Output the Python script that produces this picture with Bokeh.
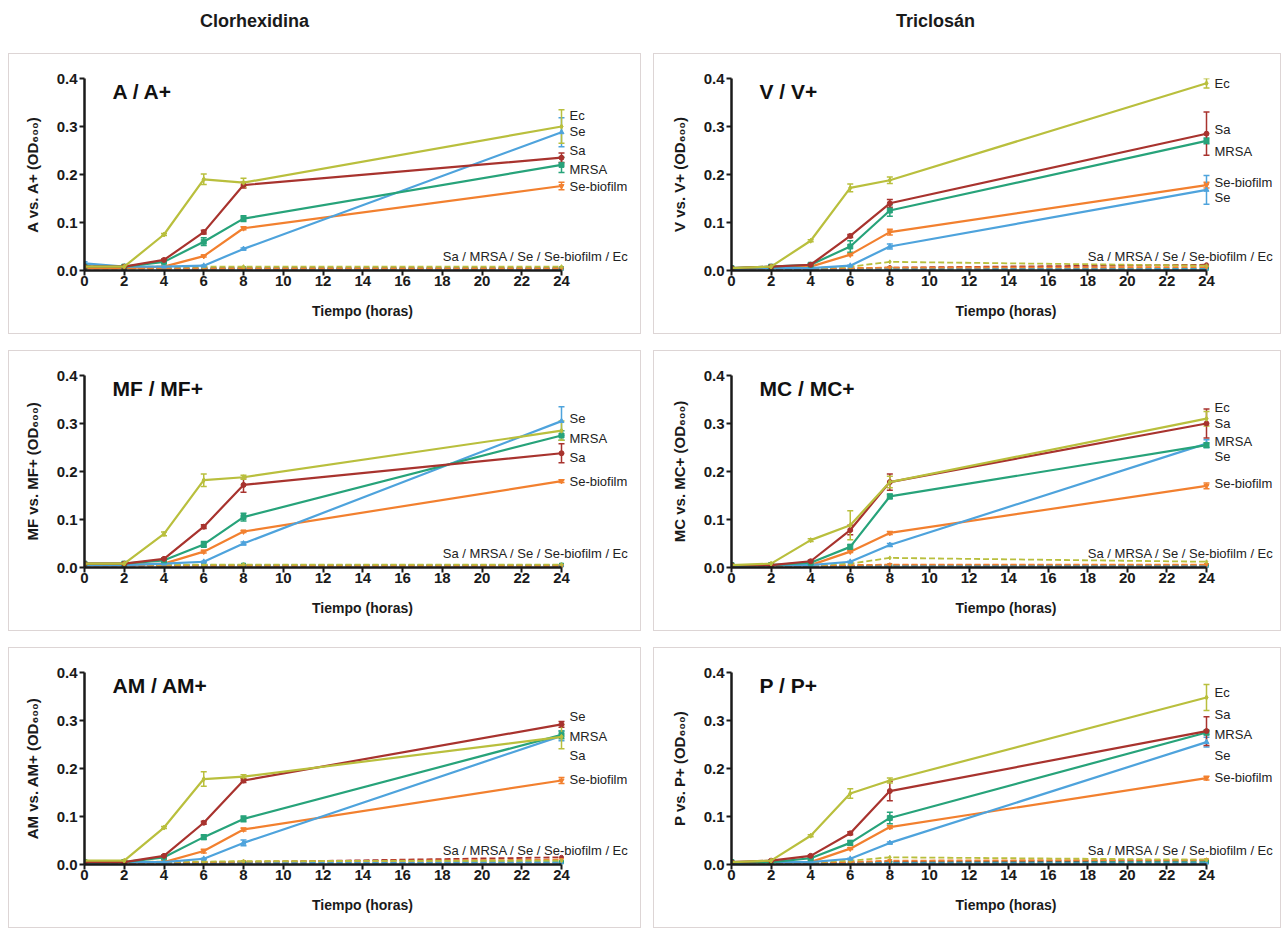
from bokeh.plotting import figure
from bokeh.models import (Range1d, Whisker, TeeHead, ColumnDataSource, Label,
                          FixedTicker, Div, PrintfTickFormatter)
from bokeh.layouts import column, row
from bokeh.embed import file_html
from bokeh.resources import INLINE
from bokeh.core.properties import value

FONT = "Liberation Sans"

# ---------------- data ----------------
t = [0, 2, 4, 6, 8, 24]
strains = ["Sa", "MRSA", "Se", "Se-biofilm", "Ec"]
strain_colors = ["#a8332e", "#27a37a", "#4ea3dc", "#f2802f", "#b9bf3d"]
strain_markers = ["circle", "square", "triangle", "inverted_triangle", "diamond"]

col_titles = ["Clorhexidina", "Triclosán"]
panel_titles = ["A / A+", "V / V+", "MF / MF+", "MC / MC+", "AM / AM+", "P / P+"]
y_titles = ["A vs. A+ (OD₆₀₀)", "V vs. V+ (OD₆₀₀)", "MF vs. MF+ (OD₆₀₀)",
            "MC vs. MC+ (OD₆₀₀)", "AM vs. AM+ (OD₆₀₀)", "P vs. P+ (OD₆₀₀)"]
x_title = "Tiempo (horas)"
combo_label = "Sa / MRSA / Se / Se-biofilm / Ec"
x_ticks = [0, 2, 4, 6, 8, 10, 12, 14, 16, 18, 20, 22, 24]
y_ticks = [0.0, 0.1, 0.2, 0.3, 0.4]

# Panel A / A+ (Clorhexidina)
A_sa = [0.008, 0.008, 0.022, 0.080, 0.178, 0.235]
A_mrsa = [0.008, 0.008, 0.018, 0.060, 0.108, 0.220]
A_se = [0.015, 0.008, 0.008, 0.010, 0.045, 0.288]
A_sebf = [0.005, 0.005, 0.008, 0.030, 0.088, 0.176]
A_ec = [0.008, 0.008, 0.075, 0.190, 0.183, 0.300]
A_sa_sd = [0.001, 0.001, 0.002, 0.004, 0.006, 0.010]
A_mrsa_sd = [0.001, 0.001, 0.002, 0.008, 0.006, 0.016]
A_se_sd = [0.003, 0.001, 0.001, 0.001, 0.002, 0.030]
A_sebf_sd = [0.001, 0.001, 0.001, 0.002, 0.003, 0.008]
A_ec_sd = [0.001, 0.001, 0.002, 0.011, 0.009, 0.035]
A_sa_p = [0.006, 0.005, 0.005, 0.005, 0.005, 0.005]
A_mrsa_p = [0.006, 0.005, 0.004, 0.004, 0.004, 0.004]
A_se_p = [0.012, 0.005, 0.003, 0.003, 0.003, 0.003]
A_sebf_p = [0.004, 0.004, 0.004, 0.004, 0.004, 0.004]
A_ec_p = [0.008, 0.008, 0.008, 0.008, 0.008, 0.008]
A_lab = ["Ec", "Se", "Sa", "MRSA", "Se-biofilm"]
A_lab_y = [0.323, 0.290, 0.249, 0.210, 0.174]

# Panel V / V+ (Triclosán)
V_sa = [0.005, 0.008, 0.012, 0.072, 0.140, 0.285]
V_mrsa = [0.005, 0.008, 0.012, 0.050, 0.125, 0.270]
V_se = [0.003, 0.005, 0.005, 0.010, 0.050, 0.168]
V_sebf = [0.003, 0.005, 0.008, 0.033, 0.080, 0.178]
V_ec = [0.005, 0.008, 0.062, 0.172, 0.188, 0.390]
V_sa_sd = [0.001, 0.001, 0.001, 0.003, 0.008, 0.045]
V_mrsa_sd = [0.001, 0.001, 0.002, 0.012, 0.012, 0.006]
V_se_sd = [0.001, 0.001, 0.001, 0.001, 0.005, 0.030]
V_sebf_sd = [0.001, 0.001, 0.001, 0.002, 0.006, 0.006]
V_ec_sd = [0.001, 0.001, 0.002, 0.008, 0.007, 0.010]
V_sa_p = [0.003, 0.003, 0.003, 0.004, 0.006, 0.012]
V_mrsa_p = [0.003, 0.003, 0.003, 0.003, 0.004, 0.004]
V_se_p = [0.003, 0.003, 0.003, 0.003, 0.003, 0.003]
V_sebf_p = [0.004, 0.004, 0.004, 0.005, 0.006, 0.007]
V_ec_p = [0.005, 0.005, 0.005, 0.008, 0.018, 0.010]
V_lab = ["Ec", "Sa", "MRSA", "Se-biofilm", "Se"]
V_lab_y = [0.389, 0.293, 0.248, 0.184, 0.153]

# Panel MF / MF+ (Clorhexidina)
MF_sa = [0.008, 0.008, 0.018, 0.085, 0.172, 0.238]
MF_mrsa = [0.008, 0.008, 0.015, 0.048, 0.105, 0.275]
MF_se = [0.005, 0.005, 0.008, 0.012, 0.050, 0.305]
MF_sebf = [0.005, 0.005, 0.008, 0.033, 0.075, 0.180]
MF_ec = [0.008, 0.008, 0.070, 0.182, 0.188, 0.285]
MF_sa_sd = [0.001, 0.001, 0.002, 0.004, 0.015, 0.020]
MF_mrsa_sd = [0.001, 0.001, 0.002, 0.006, 0.008, 0.010]
MF_se_sd = [0.001, 0.001, 0.001, 0.001, 0.003, 0.030]
MF_sebf_sd = [0.001, 0.001, 0.001, 0.003, 0.002, 0.003]
MF_ec_sd = [0.001, 0.001, 0.004, 0.013, 0.004, 0.020]
MF_sa_p = [0.005, 0.005, 0.004, 0.004, 0.004, 0.004]
MF_mrsa_p = [0.005, 0.005, 0.005, 0.005, 0.005, 0.005]
MF_se_p = [0.008, 0.006, 0.005, 0.005, 0.005, 0.005]
MF_sebf_p = [0.004, 0.004, 0.004, 0.004, 0.004, 0.004]
MF_ec_p = [0.006, 0.006, 0.006, 0.006, 0.006, 0.006]
MF_lab = ["Se", "MRSA", "Sa", "Se-biofilm"]
MF_lab_y = [0.311, 0.269, 0.230, 0.180]

# Panel MC / MC+ (Triclosán)
MC_sa = [0.005, 0.005, 0.013, 0.078, 0.178, 0.300]
MC_mrsa = [0.005, 0.005, 0.010, 0.043, 0.148, 0.255]
MC_se = [0.003, 0.005, 0.005, 0.012, 0.047, 0.258]
MC_sebf = [0.003, 0.005, 0.005, 0.033, 0.072, 0.170]
MC_ec = [0.005, 0.008, 0.057, 0.088, 0.178, 0.310]
MC_sa_sd = [0.001, 0.001, 0.002, 0.010, 0.017, 0.030]
MC_mrsa_sd = [0.001, 0.001, 0.001, 0.005, 0.005, 0.005]
MC_se_sd = [0.001, 0.001, 0.001, 0.001, 0.003, 0.008]
MC_sebf_sd = [0.001, 0.001, 0.001, 0.002, 0.003, 0.006]
MC_ec_sd = [0.001, 0.001, 0.003, 0.030, 0.012, 0.015]
MC_sa_p = [0.003, 0.003, 0.003, 0.004, 0.005, 0.005]
MC_mrsa_p = [0.003, 0.003, 0.003, 0.003, 0.004, 0.004]
MC_se_p = [0.003, 0.003, 0.003, 0.003, 0.003, 0.003]
MC_sebf_p = [0.004, 0.004, 0.004, 0.005, 0.006, 0.006]
MC_ec_p = [0.005, 0.005, 0.005, 0.008, 0.020, 0.012]
MC_lab = ["Ec", "Sa", "MRSA", "Se", "Se-biofilm"]
MC_lab_y = [0.333, 0.299, 0.262, 0.231, 0.174]

# Panel AM / AM+ (Clorhexidina)
AM_sa = [0.005, 0.005, 0.018, 0.087, 0.175, 0.292]
AM_mrsa = [0.005, 0.005, 0.015, 0.057, 0.095, 0.270]
AM_se = [0.003, 0.005, 0.005, 0.012, 0.045, 0.268]
AM_sebf = [0.003, 0.005, 0.005, 0.028, 0.073, 0.175]
AM_ec = [0.008, 0.008, 0.077, 0.178, 0.183, 0.266]
AM_sa_sd = [0.001, 0.001, 0.002, 0.003, 0.004, 0.006]
AM_mrsa_sd = [0.001, 0.001, 0.001, 0.005, 0.006, 0.008]
AM_se_sd = [0.001, 0.001, 0.001, 0.001, 0.006, 0.010]
AM_sebf_sd = [0.001, 0.001, 0.001, 0.004, 0.003, 0.006]
AM_ec_sd = [0.001, 0.001, 0.002, 0.015, 0.004, 0.025]
AM_sa_p = [0.003, 0.003, 0.003, 0.004, 0.005, 0.015]
AM_mrsa_p = [0.004, 0.004, 0.004, 0.004, 0.004, 0.005]
AM_se_p = [0.003, 0.003, 0.003, 0.003, 0.003, 0.004]
AM_sebf_p = [0.004, 0.004, 0.004, 0.005, 0.006, 0.010]
AM_ec_p = [0.006, 0.006, 0.006, 0.006, 0.007, 0.008]
AM_lab = ["Se", "MRSA", "Sa", "Se-biofilm"]
AM_lab_y = [0.309, 0.267, 0.228, 0.178]

# Panel P / P+ (Triclosán)
P_sa = [0.005, 0.008, 0.018, 0.065, 0.153, 0.278]
P_mrsa = [0.005, 0.005, 0.013, 0.045, 0.097, 0.275]
P_se = [0.003, 0.005, 0.005, 0.012, 0.045, 0.255]
P_sebf = [0.003, 0.005, 0.005, 0.033, 0.078, 0.180]
P_ec = [0.005, 0.008, 0.060, 0.148, 0.175, 0.348]
P_sa_sd = [0.001, 0.001, 0.002, 0.003, 0.020, 0.030]
P_mrsa_sd = [0.001, 0.001, 0.001, 0.005, 0.012, 0.005]
P_se_sd = [0.001, 0.001, 0.001, 0.001, 0.002, 0.010]
P_sebf_sd = [0.001, 0.001, 0.001, 0.002, 0.003, 0.004]
P_ec_sd = [0.001, 0.001, 0.002, 0.010, 0.005, 0.027]
P_sa_p = [0.003, 0.003, 0.003, 0.004, 0.006, 0.008]
P_mrsa_p = [0.003, 0.003, 0.003, 0.003, 0.004, 0.005]
P_se_p = [0.003, 0.003, 0.003, 0.003, 0.003, 0.003]
P_sebf_p = [0.004, 0.004, 0.004, 0.005, 0.008, 0.010]
P_ec_p = [0.005, 0.005, 0.005, 0.008, 0.015, 0.010]
P_lab = ["Ec", "Sa", "MRSA", "Se", "Se-biofilm"]
P_lab_y = [0.358, 0.312, 0.271, 0.228, 0.181]

panels = [
    ([A_sa, A_mrsa, A_se, A_sebf, A_ec], [A_sa_sd, A_mrsa_sd, A_se_sd, A_sebf_sd, A_ec_sd],
     [A_sa_p, A_mrsa_p, A_se_p, A_sebf_p, A_ec_p], A_lab, A_lab_y),
    ([V_sa, V_mrsa, V_se, V_sebf, V_ec], [V_sa_sd, V_mrsa_sd, V_se_sd, V_sebf_sd, V_ec_sd],
     [V_sa_p, V_mrsa_p, V_se_p, V_sebf_p, V_ec_p], V_lab, V_lab_y),
    ([MF_sa, MF_mrsa, MF_se, MF_sebf, MF_ec], [MF_sa_sd, MF_mrsa_sd, MF_se_sd, MF_sebf_sd, MF_ec_sd],
     [MF_sa_p, MF_mrsa_p, MF_se_p, MF_sebf_p, MF_ec_p], MF_lab, MF_lab_y),
    ([MC_sa, MC_mrsa, MC_se, MC_sebf, MC_ec], [MC_sa_sd, MC_mrsa_sd, MC_se_sd, MC_sebf_sd, MC_ec_sd],
     [MC_sa_p, MC_mrsa_p, MC_se_p, MC_sebf_p, MC_ec_p], MC_lab, MC_lab_y),
    ([AM_sa, AM_mrsa, AM_se, AM_sebf, AM_ec], [AM_sa_sd, AM_mrsa_sd, AM_se_sd, AM_sebf_sd, AM_ec_sd],
     [AM_sa_p, AM_mrsa_p, AM_se_p, AM_sebf_p, AM_ec_p], AM_lab, AM_lab_y),
    ([P_sa, P_mrsa, P_se, P_sebf, P_ec], [P_sa_sd, P_mrsa_sd, P_se_sd, P_sebf_sd, P_ec_sd],
     [P_sa_p, P_mrsa_p, P_se_p, P_sebf_p, P_ec_p], P_lab, P_lab_y),
]

# ---------------- layout ----------------
PANEL_H = 281
BORDER_TOP = 24
BORDER_BOTTOM = 65
LEFT_W, RIGHT_W = 633, 628
LEFT_BL, RIGHT_BL = 75, 77
AXIS_PX_L, AXIS_PX_R = 477, 475   # pixels spanned by 0..24 h


def make_panel(i):
    solid, sds, plus, labs, lab_ys = panels[i]
    is_left = (i % 2 == 0)
    W = LEFT_W if is_left else RIGHT_W
    BL = LEFT_BL if is_left else RIGHT_BL
    axis_px = AXIS_PX_L if is_left else AXIS_PX_R
    frame_w = W - BL - 2
    x_end = 24 * frame_w / axis_px

    p = figure(width=W, height=PANEL_H, output_backend="svg", toolbar_location=None,
               x_range=Range1d(0, x_end), y_range=Range1d(0, 0.4),
               min_border_left=BL, min_border_right=2,
               min_border_top=BORDER_TOP, min_border_bottom=BORDER_BOTTOM,
               styles={"border": "1px solid #ddd5d5", "background": "white"})
    p.xgrid.visible = False
    p.ygrid.visible = False
    p.outline_line_color = None
    p.background_fill_color = "white"
    p.border_fill_color = "white"

    for ax in (p.xaxis[0], p.yaxis[0]):
        ax.axis_line_width = 2.5
        ax.axis_line_color = "#1a1a1a"
        ax.major_tick_line_width = 2
        ax.major_tick_line_color = "#1a1a1a"
        ax.major_tick_out = 5
        ax.major_tick_in = 0
        ax.minor_tick_line_color = None
        ax.major_label_text_font = FONT
        ax.major_label_text_font_style = "bold"
        ax.major_label_text_font_size = "15px"
        ax.major_label_text_color = "#1a1a1a"
        ax.axis_label_text_font = FONT
        ax.axis_label_text_font_style = "bold"
        ax.axis_label_text_color = "#1a1a1a"

    p.xaxis.bounds = (0, 24)
    p.xaxis.ticker = FixedTicker(ticks=x_ticks)
    p.xaxis.axis_label = x_title
    p.xaxis.axis_label_text_font_size = "14px"
    p.xaxis.major_label_standoff = 0
    p.xaxis.axis_label_standoff = 14
    p.yaxis.bounds = (0, 0.4)
    p.yaxis.ticker = FixedTicker(ticks=y_ticks)
    p.yaxis.formatter = PrintfTickFormatter(format="%.1f")
    p.yaxis.axis_label = y_titles[i]
    p.yaxis.axis_label_text_font_size = "15px"
    p.yaxis.major_label_standoff = 2
    p.yaxis.axis_label_standoff = 13

    # dashed (+) series
    for k in range(len(strains)):
        c = strain_colors[k]
        p.line(t, plus[k], line_color=c, line_width=1.8, line_dash="6 3")
        p.scatter(t, plus[k], marker=strain_markers[k], size=4,
                  fill_color=c, line_color=c)

    # solid series with error bars
    for k in [3, 2, 1, 0, 4]:
        c = strain_colors[k]
        ys = solid[k]
        sd = sds[k]
        src = ColumnDataSource(dict(base=t,
                                    upper=[y + s for y, s in zip(ys, sd)],
                                    lower=[y - s for y, s in zip(ys, sd)]))
        p.add_layout(Whisker(base="base", upper="upper", lower="lower", source=src,
                             line_color=c, line_width=1.5,
                             upper_head=TeeHead(size=6, line_color=c, line_width=1.5),
                             lower_head=TeeHead(size=6, line_color=c, line_width=1.5)))
        p.line(t, ys, line_color=c, line_width=2.2)
        p.scatter(t, ys, marker=strain_markers[k], size=5, fill_color=c, line_color=c)

    # end-of-line labels
    p.text(x=[24] * len(labs), y=lab_ys, text=labs, x_offset=8,
           text_font=value(FONT), text_font_size="13px", text_color="#222222",
           text_align="left", text_baseline="middle")

    # combined (+) label
    p.add_layout(Label(x=24, y=0, x_offset=67, y_offset=14, text=combo_label,
                       text_font=FONT, text_font_size="13px", text_color="#222222",
                       text_align="right", text_baseline="middle"))

    # panel title
    p.add_layout(Label(x=0, y=0.4, x_offset=28, y_offset=-13, text=panel_titles[i],
                       text_font=FONT, text_font_size="21px", text_font_style="bold",
                       text_color="#111111", text_align="left", text_baseline="middle"))
    return p


figs = [make_panel(i) for i in range(6)]

title_html = (
    '<div style="position:relative;width:1270px;height:37px;'
    'font-family:\'Liberation Sans\',Arial,sans-serif;font-weight:bold;'
    'font-size:18px;color:#1a1a1a;">'
    f'<span style="position:absolute;left:192px;top:9px;">{col_titles[0]}</span>'
    f'<span style="position:absolute;left:888px;top:9px;">{col_titles[1]}</span>'
    '</div>'
)
title_div = Div(text=title_html, width=1270, height=37, margin=0)

layout = column(
    title_div,
    row(figs[0], figs[1], spacing=12, margin=0),
    row(figs[2], figs[3], spacing=12, margin=0),
    row(figs[4], figs[5], spacing=12, margin=0),
    spacing=16,
    margin=(0, 0, 0, 8),
)

open("out.html", "w").write(file_html(layout, INLINE))
